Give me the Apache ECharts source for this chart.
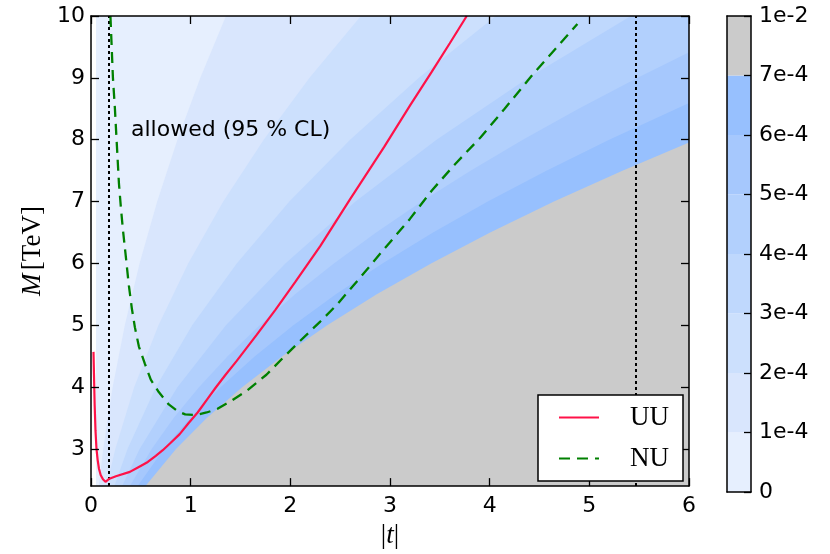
<!DOCTYPE html>
<html><head><meta charset="utf-8">
<script src="https://cdn.jsdelivr.net/npm/echarts@6/dist/echarts.min.js"></script>
<style>html,body{margin:0;padding:0;background:#fff}#c{width:830px;height:554px}</style>
</head><body><div id="c"></div>
<script>
// ---- data ----
const xTicks = [0, 1, 2, 3, 4, 5, 6];
const yTicks = [3, 4, 5, 6, 7, 8, 9, 10];
const cbTicks = [0, 1, 2, 3, 4, 5, 6, 7, 8];
const cbTickLabels = ['0', '1e-4', '2e-4', '3e-4', '4e-4', '5e-4', '6e-4', '7e-4', '1e-2'];
const seriesNames = ['UU', 'NU'];
const noteText = 'allowed (95 % CL)';
const limitLines = [0.177, 5.475];

// contour band edges [|t|, M]  (region below/right of each edge has the next level)
const edge0 = [[0.05, 10], [6, 10]];
const edge1 = [[0.078, 2.4], [0.122, 3], [0.217, 4], [0.339, 5], [0.487, 6], [0.664, 7], [0.867, 8], [1.097, 9], [1.354, 10], [6, 10]];
const edge2 = [[0.156, 2.4], [0.244, 3], [0.433, 4], [0.677, 5], [0.975, 6], [1.327, 7], [1.733, 8], [2.193, 9], [2.708, 10], [6, 10]];
const edge3 = [[0.234, 2.4], [0.366, 3], [0.650, 4], [1.015, 5], [1.462, 6], [1.990, 7], [2.600, 8], [3.290, 9], [4.062, 10], [6, 10]];
const edge4 = [[0.312, 2.4], [0.488, 3], [0.867, 4], [1.354, 5], [1.950, 6], [2.654, 7], [3.467, 8], [4.388, 9], [5.417, 10], [6, 10]];
const edge5 = [[0.390, 2.4], [0.609, 3], [0.829, 3.5], [1.083, 4], [1.371, 4.5], [1.693, 5], [2.048, 5.5], [2.437, 6], [2.861, 6.5], [3.318, 7], [3.808, 7.5], [4.333, 8], [4.892, 8.5], [5.484, 9], [6, 9.414]];
const edge6 = [[0.468, 2.4], [0.731, 3], [0.995, 3.5], [1.300, 4], [1.645, 4.5], [2.031, 5], [2.457, 5.5], [2.924, 6], [3.432, 6.5], [3.981, 7], [4.569, 7.5], [5.199, 8], [6, 8.594]];
const edge7 = [[0.546, 2.4], [0.853, 3], [1.161, 3.5], [1.517, 4], [1.919, 4.5], [2.370, 5], [2.867, 5.5], [3.412, 6], [4.005, 6.5], [4.645, 7], [5.332, 7.5], [6, 7.956]];

const uuCurve = [[0.025, 4.57], [0.03, 4.2], [0.037, 3.7], [0.045, 3.3], [0.055, 3.0], [0.067, 2.82], [0.08, 2.68], [0.097, 2.58], [0.12, 2.51], [0.145, 2.47], [0.165, 2.47], [0.185, 2.52], [0.25, 2.56], [0.39, 2.63], [0.48, 2.71], [0.57, 2.79], [0.65, 2.89], [0.72, 2.98], [0.8, 3.1], [0.89, 3.24], [0.98, 3.42], [1.07, 3.59], [1.16, 3.79], [1.25, 3.99], [1.35, 4.2], [1.46, 4.42], [1.56, 4.63], [1.66, 4.84], [1.85, 5.25], [2.05, 5.7], [2.3, 6.28], [2.6, 7.04], [2.94, 7.88], [3.2, 8.55], [3.42, 9.1], [3.6, 9.56], [3.77, 10.0]];
const nuCurve = [[0.195, 10], [0.205, 9.6], [0.22, 9.0], [0.24, 8.5], [0.26, 7.9], [0.28, 7.3], [0.30, 6.9], [0.32, 6.55], [0.35, 6.1], [0.38, 5.64], [0.41, 5.27], [0.44, 4.97], [0.48, 4.66], [0.54, 4.38], [0.60, 4.12], [0.68, 3.92], [0.78, 3.72], [0.87, 3.61], [0.945, 3.56], [1.05, 3.55], [1.16, 3.59], [1.27, 3.65], [1.41, 3.78], [1.57, 3.95], [1.76, 4.2], [1.93, 4.48], [2.1, 4.75], [2.3, 5.06], [2.46, 5.32], [2.7, 5.77], [2.94, 6.23], [3.2, 6.72], [3.42, 7.18], [3.65, 7.6], [3.91, 8.04], [4.15, 8.5], [4.43, 9.05], [4.65, 9.45], [4.88, 9.87]];

// ---- styles ----
const bandColors = ['#e6effe', '#d9e6fd', '#cce0fd', '#bfd8fd', '#b2d0fd', '#a6c8fd', '#97c0fe', '#cbcbcb'];
const edges = [edge0, edge1, edge2, edge3, edge4, edge5, edge6, edge7];
const FONT = 'DejaVu Sans';
const SERIF = 'Liberation Serif';

function tick(values, len) {
  return { show: true, inside: true, length: len, customValues: values,
    lineStyle: { color: '#000', width: 1.3 } };
}
const axisLine = { show: true, onZero: false, lineStyle: { color: '#000', width: 1.5 } };

const bandSeries = edges.map((e, i) => ({
  type: 'line', xAxisIndex: 0, yAxisIndex: 0, data: e, symbol: 'none', silent: true,
  z: 1, lineStyle: { width: 0, opacity: 0 },
  areaStyle: { color: bandColors[i], opacity: 1, origin: 'start' }
}));

const cbSeries = bandColors.map(c => ({
  type: 'bar', xAxisIndex: 2, yAxisIndex: 2, stack: 'cb', data: [1], barWidth: '100%',
  z: 1, itemStyle: { color: c }, silent: true
}));

const nameRich = {
  r: { fontFamily: SERIF, fontSize: 27, color: '#000' },
  i: { fontFamily: SERIF, fontSize: 27, fontStyle: 'italic', color: '#000' }
};

const chart = echarts.init(document.getElementById('c'), null, { renderer: 'canvas' });
chart.setOption({
  animation: false,
  backgroundColor: '#fff',
  title: {
    text: noteText, left: 131, top: 119, padding: 0,
    textStyle: { fontFamily: FONT, fontSize: 22, fontWeight: 'normal', color: '#000' }
  },
  grid: [
    { left: 91, right: 141, top: 16, bottom: 62 },
    { left: 727, right: 79, top: 16, bottom: 62 }
  ],
  legend: {
    data: seriesNames, left: 538, top: 395, orient: 'vertical',
    padding: [9, 14, 9, 20], itemWidth: 40, itemHeight: 14, itemGap: 14,
    backgroundColor: '#fff', borderColor: '#000', borderWidth: 1.5, borderRadius: 0,
    itemStyle: { opacity: 0 },
    formatter: '{a|{name}}',
    textStyle: { color: '#000', rich: { a: { fontFamily: SERIF, fontSize: 27, color: '#000',
      width: 65, align: 'right', lineHeight: 26 } } },
    z: 20
  },
  xAxis: [
    { gridIndex: 0, type: 'value', min: 0, max: 6, position: 'bottom', z: 10,
      axisLine: axisLine, axisTick: tick(xTicks, 8), splitLine: { show: false },
      axisLabel: { color: '#000', fontFamily: FONT, fontSize: 22, margin: 9, customValues: xTicks },
      name: '{r||}{i|t}{r||}', nameLocation: 'middle', nameGap: 33,
      nameTextStyle: { rich: nameRich } },
    { gridIndex: 0, type: 'value', min: 0, max: 6, position: 'top', z: 10,
      axisLine: axisLine, axisTick: tick(xTicks, 8), splitLine: { show: false },
      axisLabel: { show: false } },
    { gridIndex: 1, type: 'category', data: ['cb'], position: 'bottom', z: 10,
      axisLine: axisLine, axisTick: { show: false }, axisLabel: { show: false }, splitLine: { show: false } },
    { gridIndex: 1, type: 'category', data: ['cb'], position: 'top', z: 10,
      axisLine: axisLine, axisTick: { show: false }, axisLabel: { show: false }, splitLine: { show: false } }
  ],
  yAxis: [
    { gridIndex: 0, type: 'value', min: 2.4, max: 10, position: 'left', z: 10,
      axisLine: axisLine, axisTick: tick(yTicks, 8), splitLine: { show: false },
      axisLabel: { color: '#000', fontFamily: FONT, fontSize: 22, margin: 6, customValues: yTicks },
      name: '{i|M} {r|[TeV]}', nameLocation: 'middle', nameGap: 44, nameRotate: 90,
      nameTextStyle: { rich: nameRich } },
    { gridIndex: 0, type: 'value', min: 2.4, max: 10, position: 'right', z: 10,
      axisLine: axisLine, axisTick: tick(yTicks, 8), splitLine: { show: false },
      axisLabel: { show: false } },
    { gridIndex: 1, type: 'value', min: 0, max: 8, position: 'right', z: 10,
      axisLine: axisLine, axisTick: tick(cbTicks, 7), splitLine: { show: false },
      axisLabel: { color: '#000', fontFamily: FONT, fontSize: 22, margin: 8, customValues: cbTicks,
        formatter: v => cbTickLabels[Math.round(v)] } },
    { gridIndex: 1, type: 'value', min: 0, max: 8, position: 'left', z: 10,
      axisLine: axisLine, axisTick: { show: false }, axisLabel: { show: false }, splitLine: { show: false } }
  ],
  series: bandSeries.concat(cbSeries).concat([
    {
      name: seriesNames[0], type: 'line', xAxisIndex: 0, yAxisIndex: 0, data: uuCurve,
      symbol: 'none', smooth: false, z: 5,
      lineStyle: { color: '#ff1248', width: 2.2 }, itemStyle: { color: '#ff1248' },
      markLine: {
        silent: true, symbol: 'none', label: { show: false },
        lineStyle: { color: '#000', width: 2, type: [3, 3] },
        data: limitLines.map(v => ({ xAxis: v }))
      }
    },
    {
      name: seriesNames[1], type: 'line', xAxisIndex: 0, yAxisIndex: 0, data: nuCurve,
      symbol: 'none', smooth: false, z: 6,
      lineStyle: { color: '#008000', width: 2.3, type: [11, 7] }, itemStyle: { color: '#008000' }
    }
  ])
});
</script>
</body></html>
